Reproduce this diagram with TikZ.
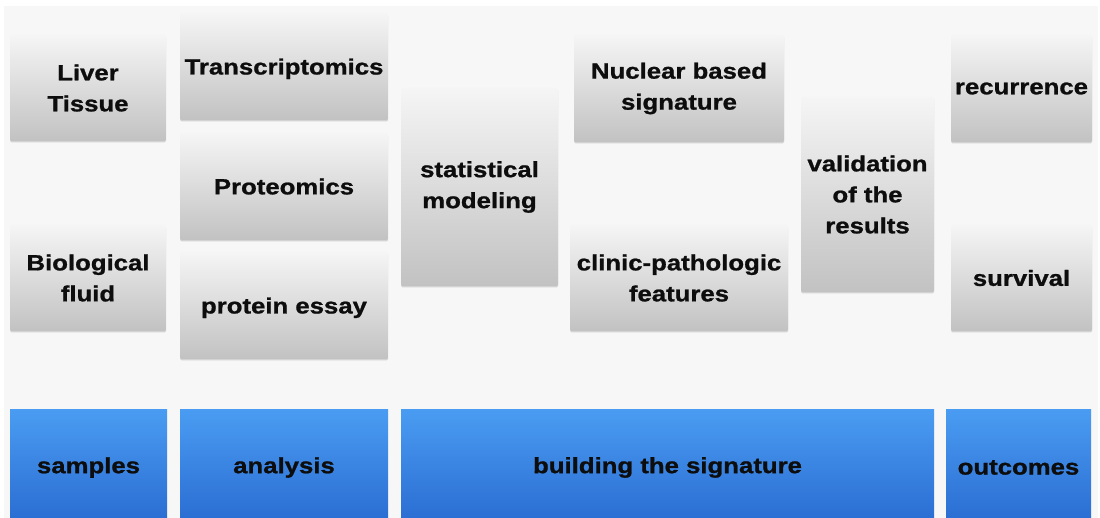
\documentclass[tikz,border=0pt]{standalone}
\usepackage{fontspec}
\setmainfont{Liberation Sans}[FakeStretch=1.17, BoldFeatures={FakeBold=1}]
\usetikzlibrary{shadows}

\definecolor{pagebg}{HTML}{F7F7F7}
\definecolor{greytop}{HTML}{F5F5F5}
\definecolor{greybot}{HTML}{C2C2C2}
\definecolor{bluetop}{HTML}{4A9CF2}
\definecolor{bluebot}{HTML}{296BD1}

\begin{document}
\begin{tikzpicture}[x=1pt,y=-1pt,
    label font/.style={font=\fontsize{22}{31}\selectfont\bfseries, text=black!95, align=center, inner sep=0pt},
    greybox/.style={label font, top color=greytop, bottom color=greybot, rounded corners=1.5pt,
        drop shadow={opacity=0.3, shadow xshift=0pt, shadow yshift=-1.5pt}},
    oneline/.style={text depth=0pt},
    bluebox/.style={label font, top color=bluetop, bottom color=bluebot,
        minimum height=117pt}]
    \useasboundingbox (0,0) rectangle (1100,518);
    \fill[white] (0,0) rectangle (1100,518);
    \fill[pagebg] (4,6) rectangle (1098,518);

    % samples
    \node[greybox, minimum width=156pt, minimum height=106pt] (liver) at (88,88) {Liver\\Tissue};
    \node[greybox, minimum width=156pt, minimum height=106pt] (fluid) at (88,278) {Biological\\fluid};

    % analysis
    \node[greybox, oneline, minimum width=208pt, minimum height=107pt] (transcript) at (284,66.5) {Transcriptomics};
    \node[greybox, minimum width=208pt, minimum height=107pt] (proteo) at (284,186.5) {Proteomics};
    \node[greybox, oneline, minimum width=208pt, minimum height=107pt] (essay) at (284,305.5) {protein essay};

    % building the signature
    \node[greybox, minimum width=157pt, minimum height=198pt] (stat) at (479.5,187) {statistical\\modeling};
    \node[greybox, minimum width=210pt, minimum height=107pt] (nuclear) at (679,88.5) {Nuclear based\\signature};
    \node[greybox, minimum width=218pt, minimum height=106pt] (clinic) at (679,278) {clinic-pathologic\\features};
    \node[greybox, minimum width=133pt, minimum height=195pt] (valid) at (867.5,194.5) {validation\\of the\\results};

    % outcomes
    \node[greybox, minimum width=141pt, minimum height=107pt] (recur) at (1021.5,88.5) {recurrence};
    \node[greybox, minimum width=141pt, minimum height=106pt] (surv) at (1021.5,278) {survival};

    % bottom row of stages, running off the lower edge
    \node[bluebox, minimum width=157pt] (samples) at (88.5,467.5) {samples};
    \node[bluebox, minimum width=208pt] (analysis) at (284,467.5) {analysis};
    \node[bluebox, minimum width=533pt] (building) at (667.5,467.5) {building the signature};
    \node[bluebox, minimum width=145pt] (outcomes) at (1018.5,467.5) {outcomes};
\end{tikzpicture}
\end{document}
